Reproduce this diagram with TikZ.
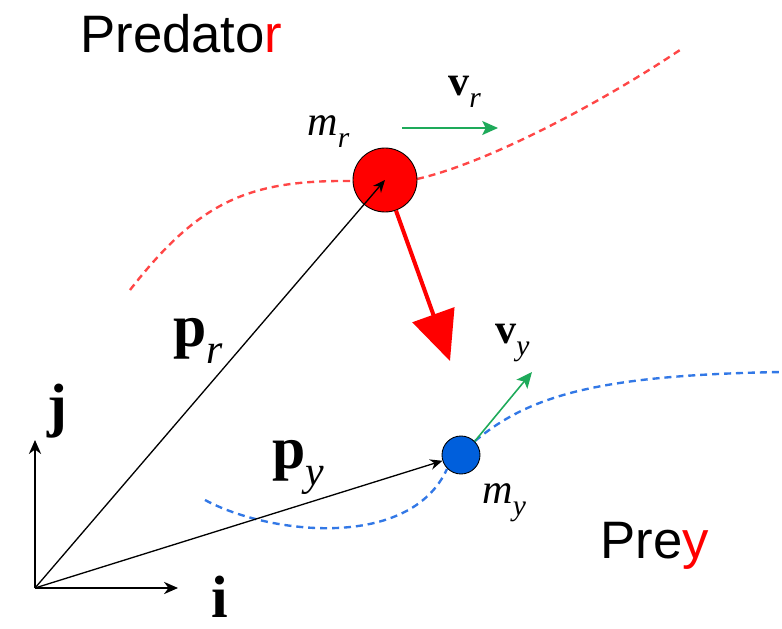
\documentclass[tikz,border=0pt]{standalone}
\usepackage{fix-cm}
\usepackage{fontspec}
\setmainfont{Liberation Serif}
\newfontfamily\labelsans{Liberation Sans}
\usetikzlibrary{arrows.meta}
\definecolor{predred}{RGB}{255,0,0}
\definecolor{trailred}{RGB}{255,70,70}
\definecolor{preyblue}{RGB}{0,95,220}
\definecolor{trailblue}{RGB}{50,120,230}
\definecolor{velgreen}{RGB}{30,170,90}
\newcommand{\lowsub}[1]{_{\raisebox{-0.15em}{$\scriptstyle\mathit{#1}$}}}
\begin{document}
\begin{tikzpicture}[x=0.02cm,y=-0.02cm,
  vec/.style={draw=black,line width=0.75pt,-{Stealth[length=7pt,width=6pt]}},
  unitvec/.style={draw=black,line width=0.9pt,-{Stealth[length=8pt,width=7pt]}},
  vel/.style={draw=velgreen,line width=0.9pt,-{Stealth[length=9pt,width=8pt,inset=2pt]}},
  trail/.style={line width=1.35pt,dash pattern=on 4pt off 2.8pt},
  boldlbl/.style={font=\fontsize{34}{40}\selectfont,inner sep=0pt,anchor=base west},
  smalllbl/.style={font=\fontsize{24}{28}\selectfont,inner sep=0pt,anchor=base west},
  headtext/.style={font=\labelsans\fontsize{30}{36}\selectfont,inner sep=0pt,anchor=base west}]
\useasboundingbox (0,0) rectangle (782,629);

% trails
\draw[trail,trailred] (130,290) .. controls (200,200) and (250,180) .. (352,181);
\draw[trail,trailred] (417,179) .. controls (480,165) and (590,110) .. (680,50);
\draw[trail,trailblue] (205,500) .. controls (270,535) and (410,550) .. (447,469);
\draw[trail,trailblue] (475,441) .. controls (530,395) and (600,375) .. (782,372);

% bodies
\node[circle,draw=black,line width=0.5pt,fill=predred,minimum size=1.28cm,inner sep=0pt] (pred) at (385,180) {};
\node[circle,draw=black,line width=0.5pt,fill=preyblue,minimum size=0.76cm,inner sep=0pt] (prey) at (461,455) {};

% frame
\coordinate (O) at (35,588);
\coordinate (iend) at (178,588);
\coordinate (jend) at (35,440);
\draw[unitvec] (O)--(iend);
\draw[unitvec] (O)--(jend);

% position vectors
\draw[vec] (O)--(pred.center);
\draw[vec] (O)--(prey);

% velocities
\coordinate (vr0) at (402,128);
\coordinate (vr1) at (498,128);
\coordinate (vy1) at (532,372);
\draw[vel] (vr0)--(vr1);
\draw[vel] (prey.north east)--(vy1);

% pursuit
\coordinate (chase) at (450,361);
\draw[predred,line width=2.3pt,-{Triangle[length=28pt,width=25pt]}] (pred)--(chase);

% labels
\node[headtext] (predtxt) at (80,52) {Predato\textcolor{predred}{r}};
\node[headtext] (preytxt) at (600,558) {Pre\textcolor{predred}{y}};
\node[boldlbl] (ilbl) at (211,617) {$\mathbf{i}$};
\node[boldlbl] (jlbl) at (47,425) {$\mathbf{j}$};
\node[boldlbl] (prlbl) at (173,346) {$\mathbf{p}\lowsub{r}$};
\node[boldlbl] (pylbl) at (272,468) {$\mathbf{p}\lowsub{y}$};
\node[smalllbl] (mrlbl) at (307,135) {$\mathit{m}\lowsub{r}$};
\node[smalllbl] (mylbl) at (482,503) {$\mathit{m}\lowsub{y}$};
\node[smalllbl] (vrlbl) at (448,95) {$\mathbf{v}\lowsub{r}$};
\node[smalllbl] (vylbl) at (495,343) {$\mathbf{v}\lowsub{y}$};
\end{tikzpicture}
\end{document}
